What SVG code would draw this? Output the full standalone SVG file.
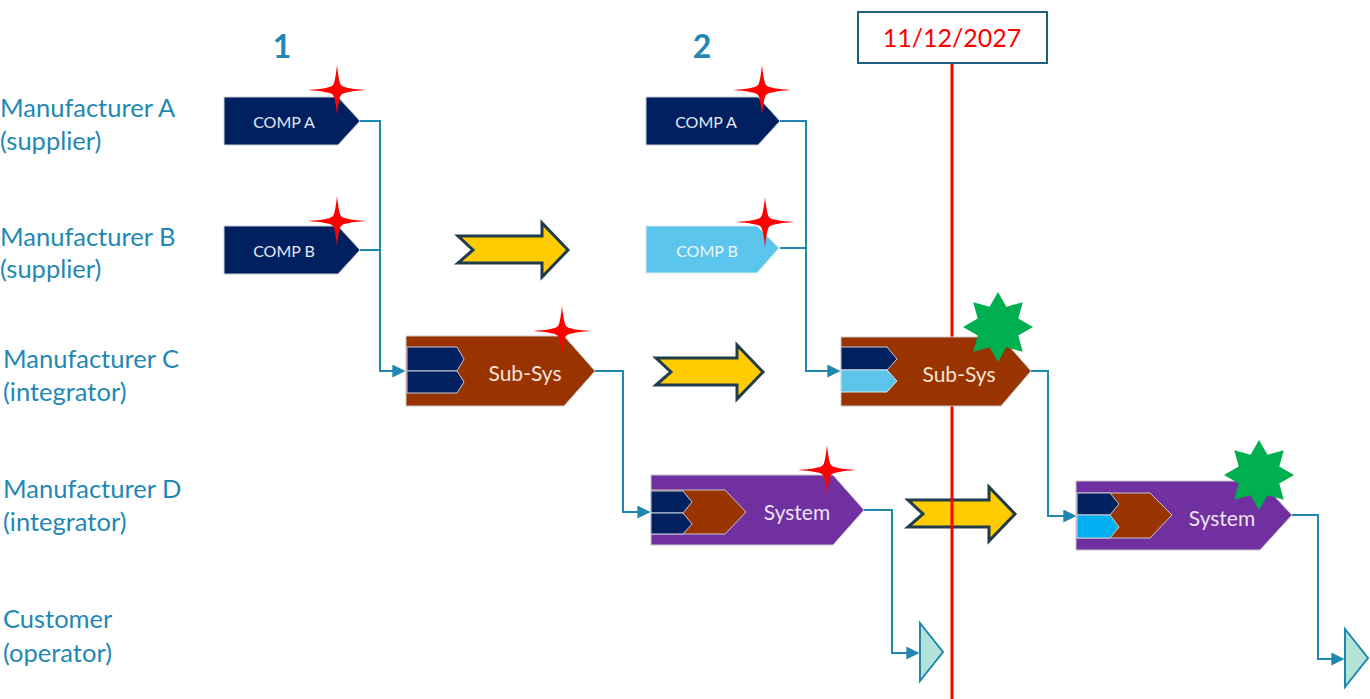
<svg xmlns="http://www.w3.org/2000/svg" width="1370" height="699" viewBox="0 0 1370 699">
<defs>
<style>
.lbl{font-family:"Lato","Open Sans",sans-serif;font-size:25.5px;fill:#1f88b4}
.num{font-family:"Lato","Open Sans",sans-serif;font-size:32px;font-weight:bold;fill:#1f88b4}
.ntxt{font-family:"Lato","Open Sans",sans-serif;text-anchor:middle;dominant-baseline:central}
.conn{fill:none;stroke:#1f87b0;stroke-width:2}
.navy{fill:#002060;stroke:#c8ccd8;stroke-width:1}
.brown{fill:#993300;stroke:#c8c8c8;stroke-width:1}
.purple{fill:#7030a0;stroke:#c8c8d0;stroke-width:1}
.sky{fill:#5bc5eb;stroke:#d8e8f0;stroke-width:1}
.cyan{fill:#00b0f0;stroke:#d0d0d0;stroke-width:1}
.red{fill:#ff0000}
.green{fill:#00b050}
.yarrow{fill:#ffcc00;stroke:#1f3c4c;stroke-width:3;stroke-linejoin:miter}
.cust{fill:#b3e2d6;stroke:#1f87b0;stroke-width:2}
</style>
<marker id="arr" viewBox="0 0 10 10" refX="9" refY="5" markerWidth="6.5" markerHeight="6.5" markerUnits="strokeWidth" orient="auto">
<path d="M0,0 L10,5 L0,10 Z" fill="#1f87b0"/>
</marker>
<path id="star4" d="M0,-25 Q2,-6 4.5,-4.5 Q8,-1.5 29,0 Q8,1.5 4.5,4.5 Q2,6 0,25 Q-2,6 -4.5,4.5 Q-8,1.5 -29,0 Q-8,-1.5 -4.5,-4.5 Q-2,-6 0,-25 Z"/>
<path id="star8" d="M0,-35 L8.4,-20.3 L24.75,-24.75 L20.3,-8.4 L35,0 L20.3,8.4 L24.75,24.75 L8.4,20.3 L0,35 L-8.4,20.3 L-24.75,24.75 L-20.3,8.4 L-35,0 L-20.3,-8.4 L-24.75,-24.75 L-8.4,-20.3 Z"/>
</defs>
<rect width="1370" height="699" fill="#ffffff"/>

<g id="row-labels">
<text class="lbl" x="0" y="117">Manufacturer A</text>
<text class="lbl" x="0" y="150">(supplier)</text>
<text class="lbl" x="0" y="246">Manufacturer B</text>
<text class="lbl" x="0" y="278">(supplier)</text>
<text class="lbl" x="3" y="368">Manufacturer C</text>
<text class="lbl" x="3" y="401">(integrator)</text>
<text class="lbl" x="3" y="498">Manufacturer D</text>
<text class="lbl" x="3" y="531">(integrator)</text>
<text class="lbl" x="3" y="628">Customer</text>
<text class="lbl" x="3" y="662">(operator)</text>
</g>

<g id="step-numbers">
<text class="num" x="282" y="58" text-anchor="middle">1</text>
<text class="num" x="702" y="58" text-anchor="middle">2</text>
</g>

<g id="transition-arrows">
<path class="yarrow" d="M458,236 L542,236 L542,223 L568,250 L542,277 L542,263 L458,263 L473,250 Z"/>
<path class="yarrow" d="M656,358 L737,358 L737,345 L763,372 L737,399 L737,385 L656,385 L671,372 Z"/>
<path class="yarrow" d="M908,500 L989,500 L989,487 L1015,514 L989,541 L989,527 L908,527 L923,514 Z"/>
</g>

<g id="date-marker">
<line x1="952" y1="64" x2="952" y2="699" stroke="#ff0000" stroke-width="3"/>
<rect x="858" y="12" width="189" height="51" fill="#ffffff" stroke="#1f5f7f" stroke-width="2"/>
<text x="952" y="47" text-anchor="middle" font-family="Lato, 'Open Sans', sans-serif" font-size="25" fill="#ff0000">11/12/2027</text>
</g>

<g id="connectors">
<polyline class="conn" points="360,121 380,121 380,371 404,371" marker-end="url(#arr)"/>
<polyline class="conn" points="360,250 380,250"/>
<polyline class="conn" points="595,371 623,371 623,512 649,512" marker-end="url(#arr)"/>
<polyline class="conn" points="864,510 892,510 892,653 918,653" marker-end="url(#arr)"/>
<polyline class="conn" points="780,121 806,121 806,371 839,371" marker-end="url(#arr)"/>
<polyline class="conn" points="780,248 806,248"/>
<polyline class="conn" points="1031,371 1048,371 1048,516 1075,516" marker-end="url(#arr)"/>
<polyline class="conn" points="1292,515 1318,515 1318,659 1343,659" marker-end="url(#arr)"/>
</g>

<g id="comp-a-1">
<path class="navy" d="M224,97 L338,97 L360,121 L338,145 L224,145 Z"/>
<text class="ntxt" x="284" y="121" font-size="16" fill="#e4e8f0">COMP A</text>
<use href="#star4" class="red" x="337" y="90"/>
</g>

<g id="comp-b-1">
<path class="navy" d="M224,226 L338,226 L360,250 L338,274 L224,274 Z"/>
<text class="ntxt" x="284" y="250" font-size="16" fill="#e4e8f0">COMP B</text>
<use href="#star4" class="red" x="337" y="221"/>
</g>

<g id="subsys-1">
<path class="brown" d="M406,336 L564,336 L595,371 L564,406 L406,406 Z"/>
<path class="navy" d="M407,347 L457,347 L464,359 L457,371 L407,371 Z"/>
<path class="navy" d="M407,371 L457,371 L464,382 L457,393 L407,393 Z"/>
<text class="ntxt" x="525" y="372" font-size="21" fill="#f5e2d8">Sub-Sys</text>
<use href="#star4" class="red" x="562" y="331"/>
</g>

<g id="system-1">
<path class="purple" d="M651,475 L833,475 L864,510 L833,545 L651,545 Z"/>
<path class="brown" d="M651,490 L725,490 L746,512 L725,534 L651,534 Z"/>
<path class="navy" d="M651,491 L683,491 L692,502 L683,513 L651,513 Z"/>
<path class="navy" d="M651,513 L683,513 L692,524 L683,534 L651,534 Z"/>
<text class="ntxt" x="797" y="511" font-size="21" fill="#ece2f4">System</text>
<use href="#star4" class="red" x="827" y="470"/>
</g>

<g id="customer-1">
<path class="cust" d="M920,623 L943,652 L920,681 Z"/>
</g>

<g id="comp-a-2">
<path class="navy" d="M646,97 L758,97 L780,121 L758,145 L646,145 Z"/>
<text class="ntxt" x="706" y="121" font-size="16" fill="#e4e8f0">COMP A</text>
<use href="#star4" class="red" x="762" y="90"/>
</g>

<g id="comp-b-2">
<path class="sky" d="M646,226 L757,226 L779,248 L757,273 L646,273 Z"/>
<text class="ntxt" x="707" y="250" font-size="16" fill="#eef8fc">COMP B</text>
<use href="#star4" class="red" x="765" y="222"/>
</g>

<g id="subsys-2">
<path class="brown" d="M841,337 L1001,337 L1031,371 L1001,406 L841,406 Z"/>
<path class="navy" d="M841,347 L887,347 L897,359 L887,370 L841,370 Z"/>
<path class="sky" d="M841,370 L887,370 L897,381 L887,392 L841,392 Z"/>
<text class="ntxt" x="959" y="373" font-size="21" fill="#f5e2d8">Sub-Sys</text>
<use href="#star8" class="green" x="998" y="327"/>
</g>

<g id="system-2">
<path class="purple" d="M1076,481 L1260,481 L1292,515 L1260,550 L1076,550 Z"/>
<path class="brown" d="M1077,493 L1150,493 L1172,515 L1150,538 L1077,538 Z"/>
<path class="navy" d="M1077,493 L1110,493 L1119,504 L1110,515 L1077,515 Z"/>
<path class="cyan" d="M1077,515 L1110,515 L1119,527 L1110,538 L1077,538 Z"/>
<text class="ntxt" x="1222" y="517" font-size="21" fill="#ece2f4">System</text>
<use href="#star8" class="green" x="1259" y="475"/>
</g>

<g id="customer-2">
<path class="cust" d="M1345,629 L1368,658 L1345,687 Z"/>
</g>
</svg>
